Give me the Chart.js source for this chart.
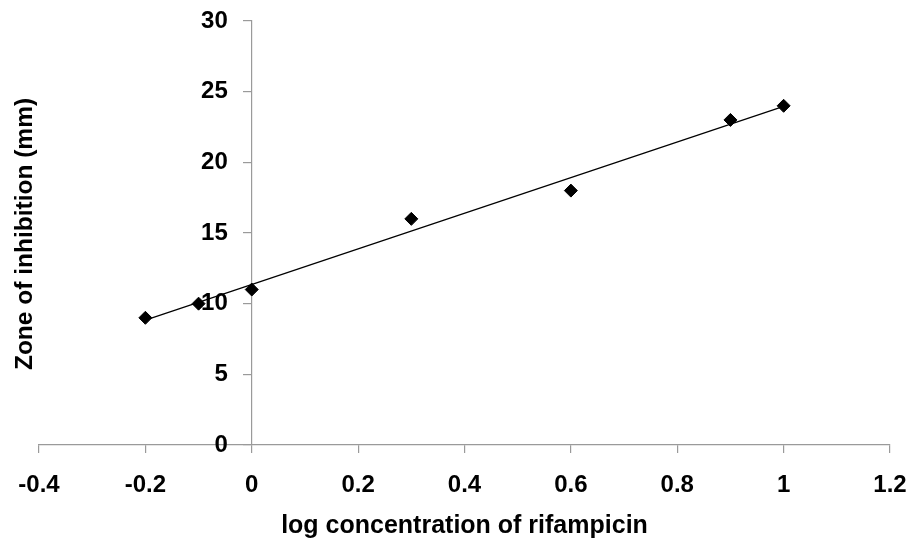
<!DOCTYPE html>
<html>
<head>
<meta charset="utf-8">
<script src="https://cdn.jsdelivr.net/npm/chart.js@4/dist/chart.umd.min.js"></script>
<style>
  html, body { margin: 0; padding: 0; background: #ffffff; }
  #wrap { width: 909px; height: 547px; position: relative; }
</style>
</head>
<body>
<div id="wrap"><canvas id="c" width="909" height="547"></canvas></div>
<script>
// Data
const logConcentration = [-0.2, -0.1, 0, 0.3, 0.6, 0.9, 1.0];
const zoneOfInhibition = [9, 10, 11, 16, 18, 23, 24];
const xTickValues = [-0.4, -0.2, 0, 0.2, 0.4, 0.6, 0.8, 1.0, 1.2];
const yTickValues = [0, 5, 10, 15, 20, 25, 30];
const xTitle = 'log concentration of rifampicin';
const yTitle = 'Zone of inhibition (mm)';

// Linear trend line (least squares) through the data
function fitLine(xs, ys) {
  const n = xs.length;
  const mx = xs.reduce((a, b) => a + b, 0) / n;
  const my = ys.reduce((a, b) => a + b, 0) / n;
  let sxy = 0, sxx = 0;
  for (let i = 0; i < n; i++) { sxy += (xs[i] - mx) * (ys[i] - my); sxx += (xs[i] - mx) * (xs[i] - mx); }
  const slope = sxy / sxx;
  return { slope, intercept: my - slope * mx };
}
const fit = fitLine(logConcentration, zoneOfInhibition);
const xMin = Math.min(...logConcentration), xMax = Math.max(...logConcentration);
const trendPoints = [xMin, xMax].map(x => ({ x, y: fit.intercept + fit.slope * x }));
const points = logConcentration.map((x, i) => ({ x, y: zoneOfInhibition[i] }));

const FONT = '"Liberation Sans", Arial, sans-serif';
const AXIS_GRAY = '#9a9a9a';
const Y_LABEL_GAP = 24; // distance from the y axis line to the right edge of its labels
const X_LABEL_GAP = 18; // extra distance below the x tick marks

const axisHelpers = {
  id: 'axisHelpers',
  beforeDraw(chart) {
    // y axis sits at x = 0: move its labels left of the tick marks
    const sy = chart.scales.y;
    const yItems = sy._computeLabelItems(chart.chartArea);
    yItems.forEach(it => { it.options.translation[0] -= Y_LABEL_GAP; });
    sy._labelItems = yItems;
    // x labels: push below the tick marks without inflating the side padding
    const sx = chart.scales.x;
    const xItems = sx._computeLabelItems(chart.chartArea);
    xItems.forEach(it => { it.options.translation[1] += X_LABEL_GAP; });
    sx._labelItems = xItems;
  },
  afterDraw(chart) {
    const { ctx, chartArea } = chart;
    ctx.save();
    ctx.translate(25, (chartArea.top + chartArea.bottom) / 2 + 1);
    ctx.rotate(-Math.PI / 2);
    ctx.font = 'bold 24.5px ' + FONT;
    ctx.fillStyle = '#000000';
    ctx.textAlign = 'center';
    ctx.textBaseline = 'middle';
    ctx.fillText(yTitle, 0, 0);
    ctx.restore();
  }
};

new Chart(document.getElementById('c'), {
  type: 'scatter',
  data: {
    datasets: [
      {
        label: 'Trend',
        data: trendPoints,
        showLine: true,
        borderColor: '#000000',
        borderWidth: 1.2,
        pointRadius: 0,
        pointHoverRadius: 0,
        fill: false,
        order: 2
      },
      {
        label: 'Zone of inhibition',
        data: points,
        pointStyle: 'rectRot',
        pointRadius: 6.5,
        pointHoverRadius: 6.5,
        backgroundColor: '#000000',
        borderColor: '#000000',
        borderWidth: 1,
        order: 1
      }
    ]
  },
  options: {
    responsive: false,
    animation: false,
    devicePixelRatio: 1,
    layout: { padding: { left: 39, right: 19, top: 21, bottom: 0 } },
    plugins: {
      legend: { display: false },
      tooltip: { enabled: false }
    },
    scales: {
      x: {
        type: 'linear',
        position: 'bottom',
        min: xTickValues[0],
        max: xTickValues[xTickValues.length - 1],
        afterBuildTicks(scale) { scale.ticks = xTickValues.map(v => ({ value: v })); },
        afterFit(scale) { scale.height = 102; },
        grid: { display: true, drawOnChartArea: false, drawTicks: true, tickLength: 8, color: AXIS_GRAY, lineWidth: 1.2 },
        border: { display: true, color: AXIS_GRAY, width: 1.2 },
        ticks: {
          padding: 0,
          color: '#000000',
          font: { family: FONT, size: 24, weight: 'bold' },
          maxRotation: 0,
          autoSkip: false,
          callback: v => String(Number(Number(v).toFixed(1)))
        },
        title: {
          display: true,
          text: xTitle,
          color: '#000000',
          font: { family: FONT, size: 25, weight: 'bold' },
          padding: { top: 13, bottom: 6 }
        }
      },
      y: {
        type: 'linear',
        position: { x: 0 },
        min: yTickValues[0],
        max: yTickValues[yTickValues.length - 1],
        afterBuildTicks(scale) { scale.ticks = yTickValues.map(v => ({ value: v })); },
        afterFit(scale) { scale.width = 0; },
        grid: { display: true, drawOnChartArea: false, drawTicks: true, tickLength: 8, color: AXIS_GRAY, lineWidth: 1.2 },
        border: { display: true, color: AXIS_GRAY, width: 1.2 },
        ticks: {
          padding: 0,
          color: '#000000',
          font: { family: FONT, size: 24, weight: 'bold' },
          autoSkip: false,
          callback: v => String(v)
        },
        title: { display: false }
      }
    }
  },
  plugins: [axisHelpers]
});
</script>
</body>
</html>
